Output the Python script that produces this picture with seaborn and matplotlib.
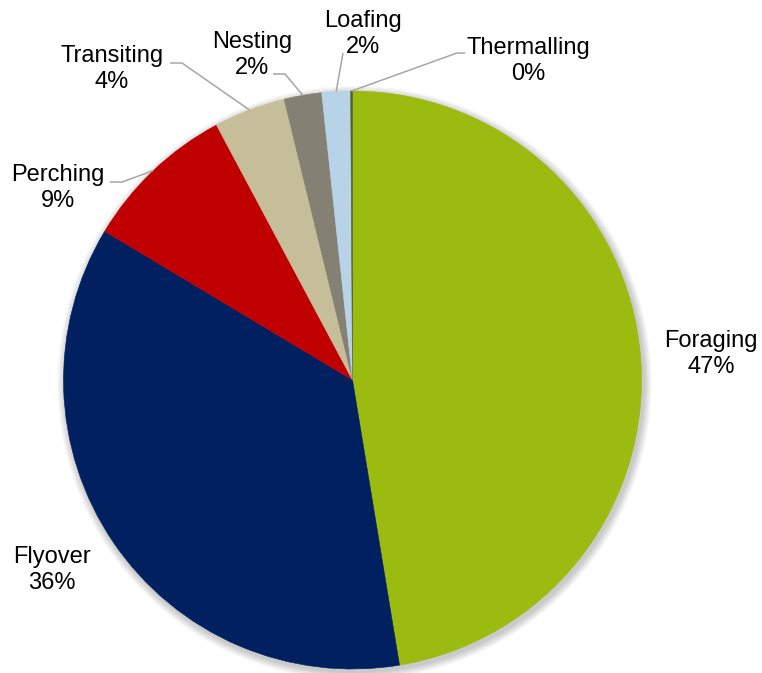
import matplotlib
matplotlib.use("Agg")
import matplotlib.pyplot as plt
from matplotlib.patches import Circle
import numpy as np
import seaborn as sns

# Share of observed behaviour, in percent
behaviors = ["Foraging", "Flyover", "Perching", "Transiting", "Nesting", "Loafing", "Thermalling"]
shares = [47.4, 36.2, 8.6, 4.0, 2.1, 1.6, 0.1]
slice_colors = ["#9BBB11", "#002060", "#C00000", "#C6BE98", "#848074", "#B8D2E8", "#4F6228"]

sns.set_theme(style="white")
plt.rcParams["font.family"] = ["Liberation Sans", "DejaVu Sans"]

W, H = 762, 673
fig = plt.figure(figsize=(W / 100, H / 100), dpi=100)
ax = fig.add_axes([0, 0, 1, 1])


def py(y):
    """Flip a top-down pixel row into the axes' bottom-up coordinate."""
    return H - y


cx, cy, radius = 352.5, py(380), 289

# soft drop shadow under the pie
for i in range(9):
    ax.add_patch(Circle((cx + 2, cy - 3), radius + 1 + i * 0.9,
                        facecolor="black", edgecolor="none", alpha=0.022, zorder=0))

palette = sns.color_palette(slice_colors)
wedges, _ = ax.pie(shares, colors=palette, startangle=90, counterclock=False,
                   center=(cx, cy), radius=radius, frame=True,
                   wedgeprops=dict(linewidth=0.4))
for w, c in zip(wedges, palette):
    w.set_edgecolor(c)
    w.set_zorder(2)
ax.set_xlim(0, W)
ax.set_ylim(0, H)
ax.set_aspect("auto")
ax.set_axis_off()

# label placement: text centre, plus optional leader elbow and tail (pixel rows from top)
label_pos = {
    "Foraging": (711, 354, None),
    "Flyover": (52, 570, None),
    "Perching": (58, 188, [(122, 182), (110, 182)]),
    "Transiting": (112, 69, [(182, 63), (170, 63)]),
    "Nesting": (252, 55, [(285, 74), (273, 74)]),
    "Loafing": (363, 34, [(343, 53)]),
    "Thermalling": (528, 61, [(457, 53), (465, 53)]),
}

total = sum(shares)
cum = 0.0
for name, val in zip(behaviors, shares):
    mid = 90 - 360 * (cum + val / 2) / total
    cum += val
    tx, ty, leader = label_pos[name]
    ax.text(tx, py(ty), f"{name}\n{val:.0f}%", ha="center", va="center",
            fontsize=17, color="black", linespacing=1.2, zorder=5)
    if leader:
        rx = cx + radius * np.cos(np.radians(mid))
        ry = cy + radius * np.sin(np.radians(mid))
        xs = [rx] + [p[0] for p in leader]
        ys = [ry] + [py(p[1]) for p in leader]
        ax.plot(xs, ys, color="#A6A6A6", lw=1.1, zorder=3, solid_capstyle="butt")

fig.savefig("out.png", dpi=100)
